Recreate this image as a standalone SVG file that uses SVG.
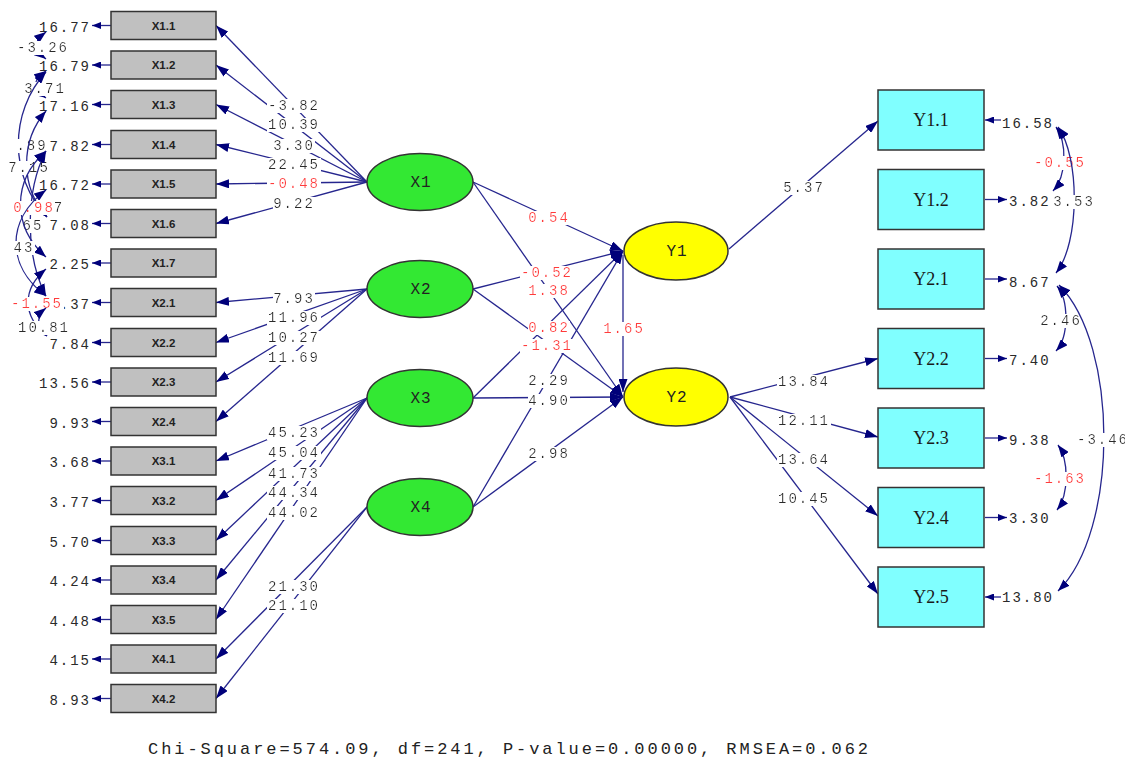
<svg xmlns="http://www.w3.org/2000/svg" width="1125" height="779" viewBox="0 0 1125 779">
<defs>
<style>
.ln{fill:none;stroke:#26268e;stroke-width:1.3}
.lb{font-family:"Liberation Mono",monospace;font-size:14px;letter-spacing:2px;fill:#2a2a2a;text-anchor:middle;filter:url(#bg)}
.red{fill:#ff3b3b}
.st{text-anchor:start}
.ev{font-family:"Liberation Mono",monospace;font-size:14px;letter-spacing:2px;fill:#2a2a2a;text-anchor:end}
.evr{font-family:"Liberation Mono",monospace;font-size:14px;letter-spacing:2px;fill:#2a2a2a}
.box{fill:#c0c0c0;stroke:#333;stroke-width:1.5}
.bt{font-family:"Liberation Sans",Arial,sans-serif;font-size:11.5px;font-weight:bold;fill:#222;text-anchor:middle}
.ybox{fill:#80ffff;stroke:#333;stroke-width:1.5}
.yt{font-family:"Liberation Serif","Times New Roman",serif;font-size:18px;fill:#1a1a1a;text-anchor:middle}
.ex{fill:#33e833;stroke:#333;stroke-width:1.5}
.ey{fill:#ffff00;stroke:#333;stroke-width:1.5}
.et{font-family:"Liberation Mono",monospace;font-size:16px;letter-spacing:1px;fill:#222;text-anchor:middle}
.foot{font-family:"Liberation Mono",monospace;font-size:17px;fill:#222}
</style>
<filter id="bg" x="0" y="0.08" width="1" height="0.84"><feFlood flood-color="#ffffff"/><feComposite in="SourceGraphic"/></filter>
<marker id="ah" viewBox="0 0 13 9" refX="13" refY="4.5" markerWidth="13" markerHeight="9" markerUnits="userSpaceOnUse" orient="auto"><path d="M0,0 L13,4.5 L0,9 z" fill="#00007a"/></marker>
<marker id="ac" viewBox="0 0 12 9" refX="12" refY="4.5" markerWidth="12" markerHeight="9" markerUnits="userSpaceOnUse" orient="auto-start-reverse"><path d="M0,0 L12,4.5 L0,9 z" fill="#00007a"/></marker>
<marker id="ae" viewBox="0 0 9 7" refX="9" refY="3.5" markerWidth="9" markerHeight="7" markerUnits="userSpaceOnUse" orient="auto"><path d="M0,0 L9,3.5 L0,7 z" fill="#00007a"/></marker>
</defs>
<rect width="1125" height="779" fill="#fff"/>

<g id="connectors">
<!-- left error arrows -->
<g>
<path class="ln" d="M111,25.5 L92,25.5" marker-end="url(#ae)"/>
<path class="ln" d="M111,65 L92,65" marker-end="url(#ae)"/>
<path class="ln" d="M111,104.5 L92,104.5" marker-end="url(#ae)"/>
<path class="ln" d="M111,144.5 L92,144.5" marker-end="url(#ae)"/>
<path class="ln" d="M111,184 L92,184" marker-end="url(#ae)"/>
<path class="ln" d="M111,223.5 L92,223.5" marker-end="url(#ae)"/>
<path class="ln" d="M111,263 L92,263" marker-end="url(#ae)"/>
<path class="ln" d="M111,302.5 L92,302.5" marker-end="url(#ae)"/>
<path class="ln" d="M111,342.5 L92,342.5" marker-end="url(#ae)"/>
<path class="ln" d="M111,382 L92,382" marker-end="url(#ae)"/>
<path class="ln" d="M111,421.5 L92,421.5" marker-end="url(#ae)"/>
<path class="ln" d="M111,461 L92,461" marker-end="url(#ae)"/>
<path class="ln" d="M111,500.5 L92,500.5" marker-end="url(#ae)"/>
<path class="ln" d="M111,540.5 L92,540.5" marker-end="url(#ae)"/>
<path class="ln" d="M111,580 L92,580" marker-end="url(#ae)"/>
<path class="ln" d="M111,619.5 L92,619.5" marker-end="url(#ae)"/>
<path class="ln" d="M111,659 L92,659" marker-end="url(#ae)"/>
<path class="ln" d="M111,698.5 L92,698.5" marker-end="url(#ae)"/>
<text class="ev" x="91" y="31.5">16.77</text>
<text class="ev" x="91" y="71">16.79</text>
<text class="ev" x="91" y="110.5">17.16</text>
<text class="ev" x="91" y="150.5">7.82</text>
<text class="ev" x="91" y="190">16.72</text>
<text class="ev" x="91" y="229.5">7.08</text>
<text class="ev" x="91" y="269">2.25</text>
<text class="ev" x="91" y="308.5">5.37</text>
<text class="ev" x="91" y="348.5">7.84</text>
<text class="ev" x="91" y="388">13.56</text>
<text class="ev" x="91" y="427.5">9.93</text>
<text class="ev" x="91" y="467">3.68</text>
<text class="ev" x="91" y="506.5">3.77</text>
<text class="ev" x="91" y="546.5">5.70</text>
<text class="ev" x="91" y="586">4.24</text>
<text class="ev" x="91" y="625.5">4.48</text>
<text class="ev" x="91" y="665">4.15</text>
<text class="ev" x="91" y="704.5">8.93</text>
</g>
<!-- left error covariances -->
<g>
<path class="ln" d="M46,32 C33,42 33,49 46,59" marker-start="url(#ac)" marker-end="url(#ac)"/><text class="lb" x="43" y="52">-3.26</text>
<path class="ln" d="M46,71 C32,81 32,88 46,98" marker-start="url(#ac)" marker-end="url(#ac)"/><text class="lb" x="45" y="93">3.71</text>
<path class="ln" d="M46,72 C9,112 9,177 47,217" marker-start="url(#ac)" marker-end="url(#ac)"/><text class="lb" x="32" y="150">.89</text>
<path class="ln" d="M46,111 C20,141 20,187 47,217" marker-start="url(#ac)" marker-end="url(#ac)"/><text class="lb" x="29" y="172">7.15</text>
<path class="ln" d="M46,151 C25,191 25,256 46,296" marker-start="url(#ac)" marker-end="url(#ac)"/><text class="lb" x="33" y="230">65</text>
<path class="ln" d="M46,151 C12,181 12,227 46,257" marker-start="url(#ac)" marker-end="url(#ac)"/><text class="lb" x="59" y="212">7</text><text class="lb red" x="34" y="212">0.98</text>
<path class="ln" d="M46,190 C6,220 6,266 46,296" marker-start="url(#ac)" marker-end="url(#ac)"/><text class="lb" x="24" y="252">43</text>
<path class="ln" d="M46,269 C22,289 22,316 47,336" marker-start="url(#ac)" marker-end="url(#ac)"/><text class="lb red" x="37" y="308">-1.55</text>
<path class="ln" d="M46,308 C36,316 36,328 47,336" marker-start="url(#ac)" marker-end="url(#ac)"/><text class="lb" x="44" y="332">10.81</text>
</g>
<!-- X loadings -->
<g>
<path class="ln" d="M367,182 L216,25.5" marker-end="url(#ah)"/>
<path class="ln" d="M367,182 L216,65" marker-end="url(#ah)"/>
<path class="ln" d="M367,182 L216,104.5" marker-end="url(#ah)"/>
<path class="ln" d="M367,182 L216,144.5" marker-end="url(#ah)"/>
<path class="ln" d="M367,182 L216,184" marker-end="url(#ah)"/>
<path class="ln" d="M367,182 L216,223.5" marker-end="url(#ah)"/>
<path class="ln" d="M367,289 L216,302.5" marker-end="url(#ah)"/>
<path class="ln" d="M367,289 L216,342.5" marker-end="url(#ah)"/>
<path class="ln" d="M367,289 L216,382" marker-end="url(#ah)"/>
<path class="ln" d="M367,289 L216,421.5" marker-end="url(#ah)"/>
<path class="ln" d="M367,398 L216,461" marker-end="url(#ah)"/>
<path class="ln" d="M367,398 L216,500.5" marker-end="url(#ah)"/>
<path class="ln" d="M367,398 L216,540.5" marker-end="url(#ah)"/>
<path class="ln" d="M367,398 L216,580" marker-end="url(#ah)"/>
<path class="ln" d="M367,398 L216,619.5" marker-end="url(#ah)"/>
<path class="ln" d="M367,507 L216,659" marker-end="url(#ah)"/>
<path class="ln" d="M367,507 L216,698.5" marker-end="url(#ah)"/>
<text class="lb" x="294" y="110">-3.82</text>
<text class="lb" x="294" y="129">10.39</text>
<text class="lb" x="294" y="150">3.30</text>
<text class="lb" x="294" y="169">22.45</text>
<text class="lb red" x="294" y="188">-0.48</text>
<text class="lb" x="294" y="208">9.22</text>
<text class="lb" x="294" y="303">7.93</text>
<text class="lb" x="294" y="322">11.96</text>
<text class="lb" x="294" y="342">10.27</text>
<text class="lb" x="294" y="362">11.69</text>
<text class="lb" x="294" y="437">45.23</text>
<text class="lb" x="294" y="457">45.04</text>
<text class="lb" x="294" y="478">41.73</text>
<text class="lb" x="294" y="497">44.34</text>
<text class="lb" x="294" y="517">44.02</text>
<text class="lb" x="294" y="591">21.30</text>
<text class="lb" x="294" y="610">21.10</text>
</g>
<!-- structural paths -->
<g>
<path class="ln" d="M473,182 L623,251" marker-end="url(#ah)"/>
<path class="ln" d="M473,289 L623,251" marker-end="url(#ah)"/>
<path class="ln" d="M473,398 L623,251" marker-end="url(#ah)"/>
<path class="ln" d="M473,507 L623,251" marker-end="url(#ah)"/>
<path class="ln" d="M473,182 L623,397" marker-end="url(#ah)"/>
<path class="ln" d="M473,289 L623,397" marker-end="url(#ah)"/>
<path class="ln" d="M473,398 L623,397" marker-end="url(#ah)"/>
<path class="ln" d="M473,507 L623,397" marker-end="url(#ah)"/>
<path class="ln" d="M623,255 L623,392" marker-end="url(#ah)"/>
<text class="lb red" x="549" y="222">0.54</text>
<text class="lb red" x="547" y="277">-0.52</text>
<text class="lb red" x="549" y="295">1.38</text>
<text class="lb red" x="549" y="332">0.82</text>
<text class="lb red" x="547" y="350">-1.31</text>
<text class="lb" x="549" y="385">2.29</text>
<text class="lb" x="549" y="405">4.90</text>
<text class="lb" x="549" y="458">2.98</text>
<text class="lb red" x="624" y="333">1.65</text>
</g>
<!-- Y loadings -->
<g>
<path class="ln" d="M729,249 L878,121" marker-end="url(#ah)"/>
<path class="ln" d="M730,397 L878,358.5" marker-end="url(#ah)"/>
<path class="ln" d="M730,397 L878,437" marker-end="url(#ah)"/>
<path class="ln" d="M730,397 L878,516" marker-end="url(#ah)"/>
<path class="ln" d="M730,397 L878,594" marker-end="url(#ah)"/>
<text class="lb" x="804" y="192">5.37</text>
<text class="lb" x="804" y="386">13.84</text>
<text class="lb" x="804" y="425">12.11</text>
<text class="lb" x="804" y="464">13.64</text>
<text class="lb" x="804" y="503">10.45</text>
</g>
<!-- right error arrows -->
<g>
<path class="ln" d="M1001,120 L985,120" marker-end="url(#ae)"/>
<path class="ln" d="M985,199.5 L1007,199.5" marker-end="url(#ae)"/>
<path class="ln" d="M985,279 L1007,279" marker-end="url(#ae)"/>
<path class="ln" d="M985,358.5 L1007,358.5" marker-end="url(#ae)"/>
<path class="ln" d="M985,438 L1007,438" marker-end="url(#ae)"/>
<path class="ln" d="M985,517.5 L1007,517.5" marker-end="url(#ae)"/>
<path class="ln" d="M1001,597 L985,597" marker-end="url(#ae)"/>
<text class="evr" x="1002" y="128">16.58</text>
<text class="evr" x="1009" y="206">3.82</text>
<text class="evr" x="1009" y="287">8.67</text>
<text class="evr" x="1009" y="365">7.40</text>
<text class="evr" x="1009" y="445">9.38</text>
<text class="evr" x="1009" y="523">3.30</text>
<text class="evr" x="1002" y="602">13.80</text>
</g>
<!-- right error covariances -->
<g>
<path class="ln" d="M1056,127 C1067,142 1067,176 1053,191" marker-start="url(#ac)" marker-end="url(#ac)"/><text class="lb red" x="1060" y="167">-0.55</text>
<path class="ln" d="M1058,127 C1080,157 1080,243 1056,273" marker-start="url(#ac)" marker-end="url(#ac)"/><text class="lb" x="1074" y="206">3.53</text>
<path class="ln" d="M1057,286 C1069,300 1069,337 1056,351" marker-start="url(#ac)" marker-end="url(#ac)"/><text class="lb" x="1061" y="325">2.46</text>
<path class="ln" d="M1059,285 C1119,345 1119,531 1058,591" marker-start="url(#ac)" marker-end="url(#ac)"/><text class="lb st" x="1077" y="444">-3.46</text>
<path class="ln" d="M1058,445 C1069,460 1069,495 1057,510" marker-start="url(#ac)" marker-end="url(#ac)"/><text class="lb red" x="1060" y="483">-1.63</text>
</g>
</g>

<g id="X1.1"><rect class="box" x="111" y="11.5" width="105" height="28"/><text class="bt" x="163.5" y="29.5">X1.1</text></g>
<g id="X1.2"><rect class="box" x="111" y="51" width="105" height="28"/><text class="bt" x="163.5" y="69">X1.2</text></g>
<g id="X1.3"><rect class="box" x="111" y="90.5" width="105" height="28"/><text class="bt" x="163.5" y="108.5">X1.3</text></g>
<g id="X1.4"><rect class="box" x="111" y="130.5" width="105" height="28"/><text class="bt" x="163.5" y="148.5">X1.4</text></g>
<g id="X1.5"><rect class="box" x="111" y="170" width="105" height="28"/><text class="bt" x="163.5" y="188">X1.5</text></g>
<g id="X1.6"><rect class="box" x="111" y="209.5" width="105" height="28"/><text class="bt" x="163.5" y="227.5">X1.6</text></g>
<g id="X1.7"><rect class="box" x="111" y="249" width="105" height="28"/><text class="bt" x="163.5" y="267">X1.7</text></g>
<g id="X2.1"><rect class="box" x="111" y="288.5" width="105" height="28"/><text class="bt" x="163.5" y="306.5">X2.1</text></g>
<g id="X2.2"><rect class="box" x="111" y="328.5" width="105" height="28"/><text class="bt" x="163.5" y="346.5">X2.2</text></g>
<g id="X2.3"><rect class="box" x="111" y="368" width="105" height="28"/><text class="bt" x="163.5" y="386">X2.3</text></g>
<g id="X2.4"><rect class="box" x="111" y="407.5" width="105" height="28"/><text class="bt" x="163.5" y="425.5">X2.4</text></g>
<g id="X3.1"><rect class="box" x="111" y="447" width="105" height="28"/><text class="bt" x="163.5" y="465">X3.1</text></g>
<g id="X3.2"><rect class="box" x="111" y="486.5" width="105" height="28"/><text class="bt" x="163.5" y="504.5">X3.2</text></g>
<g id="X3.3"><rect class="box" x="111" y="526.5" width="105" height="28"/><text class="bt" x="163.5" y="544.5">X3.3</text></g>
<g id="X3.4"><rect class="box" x="111" y="566" width="105" height="28"/><text class="bt" x="163.5" y="584">X3.4</text></g>
<g id="X3.5"><rect class="box" x="111" y="605.5" width="105" height="28"/><text class="bt" x="163.5" y="623.5">X3.5</text></g>
<g id="X4.1"><rect class="box" x="111" y="645" width="105" height="28"/><text class="bt" x="163.5" y="663">X4.1</text></g>
<g id="X4.2"><rect class="box" x="111" y="684.5" width="105" height="28"/><text class="bt" x="163.5" y="702.5">X4.2</text></g>

<g id="X1"><ellipse class="ex" cx="420" cy="182" rx="53" ry="28.5"/><text class="et" x="421" y="187">X1</text></g>
<g id="X2"><ellipse class="ex" cx="420" cy="289" rx="53" ry="28.5"/><text class="et" x="421" y="294">X2</text></g>
<g id="X3"><ellipse class="ex" cx="420" cy="398" rx="53" ry="28.5"/><text class="et" x="421" y="403">X3</text></g>
<g id="X4"><ellipse class="ex" cx="420" cy="507" rx="53" ry="28.5"/><text class="et" x="421" y="512">X4</text></g>

<g id="Y1"><ellipse class="ey" cx="676" cy="251" rx="52" ry="29"/><text class="et" x="677" y="256">Y1</text></g>
<g id="Y2"><ellipse class="ey" cx="676" cy="397" rx="52" ry="29"/><text class="et" x="677" y="402">Y2</text></g>

<g id="Y1.1"><rect class="ybox" x="878" y="90" width="106" height="60"/><text class="yt" x="931" y="126">Y1.1</text></g>
<g id="Y1.2"><rect class="ybox" x="878" y="169.5" width="106" height="60"/><text class="yt" x="931" y="205.5">Y1.2</text></g>
<g id="Y2.1"><rect class="ybox" x="878" y="249" width="106" height="60"/><text class="yt" x="931" y="285">Y2.1</text></g>
<g id="Y2.2"><rect class="ybox" x="878" y="328.5" width="106" height="60"/><text class="yt" x="931" y="364.5">Y2.2</text></g>
<g id="Y2.3"><rect class="ybox" x="878" y="408" width="106" height="60"/><text class="yt" x="931" y="444">Y2.3</text></g>
<g id="Y2.4"><rect class="ybox" x="878" y="487.5" width="106" height="60"/><text class="yt" x="931" y="523.5">Y2.4</text></g>
<g id="Y2.5"><rect class="ybox" x="878" y="567" width="106" height="60"/><text class="yt" x="931" y="603">Y2.5</text></g>

<text class="foot" x="148" y="754" textLength="720" lengthAdjust="spacing">Chi-Square=574.09, df=241, P-value=0.00000, RMSEA=0.062</text>
</svg>
